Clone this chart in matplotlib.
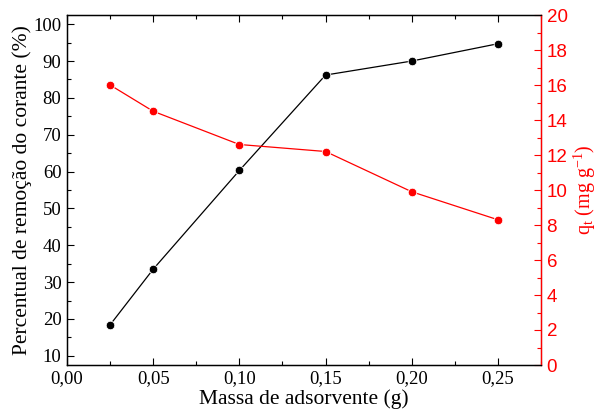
import matplotlib
matplotlib.use("Agg")
import matplotlib.pyplot as plt
from matplotlib.ticker import MultipleLocator, FuncFormatter

massa = [0.025, 0.05, 0.10, 0.15, 0.20, 0.25]
remocao = [18.4, 33.5, 60.3, 86.2, 90.0, 94.7]
qt = [16.0, 14.5, 12.6, 12.2, 9.9, 8.3]

plt.rcParams['mathtext.fontset'] = 'custom'
plt.rcParams['mathtext.rm'] = 'Liberation Serif'
plt.rcParams['mathtext.it'] = 'Liberation Serif:italic'

serif = 'Liberation Serif'
sans = 'Liberation Sans'

fig = plt.figure(figsize=(5.98, 4.17), dpi=100)
ax = fig.add_axes([67/598, 52/417, 474/598, 350/417])
ax2 = ax.twinx()

ax.plot(massa, remocao, color='black', lw=0.9, marker='o', ms=6.2,
        mfc='black', mec='white', mew=0.6, zorder=3)
ax2.plot(massa, qt, color='red', lw=0.9, marker='o', ms=6.2,
         mfc='red', mec='white', mew=0.6, zorder=3)

ax.set_xlim(0, 0.275)
ax.set_ylim(7.5, 102.5)
ax2.set_ylim(0, 20)

ax.xaxis.set_major_locator(MultipleLocator(0.05))
ax.xaxis.set_minor_locator(MultipleLocator(0.025))
ax.set_yticks([10, 20, 30, 40, 50, 60, 70, 80, 90, 100])
ax.yaxis.set_minor_locator(MultipleLocator(5))
ax2.yaxis.set_major_locator(MultipleLocator(2))
ax2.yaxis.set_minor_locator(MultipleLocator(1))

ax.xaxis.set_major_formatter(FuncFormatter(lambda v, p: f"{v:.2f}".replace('.', ',')))

ax.tick_params(axis='x', which='both', direction='in', top=True, bottom=True)
ax.tick_params(axis='x', which='major', length=5, width=0.8, labelsize=13.5, pad=4)
ax.tick_params(axis='x', which='minor', length=3, width=0.8)
ax.tick_params(axis='y', which='major', direction='in', length=5, width=0.8, labelsize=13.5, right=False, pad=4)
ax.tick_params(axis='y', which='minor', direction='in', length=3, width=0.8, right=False)
for lab in ax.get_xticklabels() + ax.get_yticklabels():
    lab.set_fontfamily(serif)

ax2.tick_params(axis='y', which='major', direction='in', length=5, width=0.8,
                colors='red', labelsize=13.5, pad=4)
ax2.tick_params(axis='y', which='minor', direction='in', length=3, width=0.8, colors='red')
for lab in ax2.get_yticklabels():
    lab.set_fontfamily(sans)

ax2.spines['right'].set_color('red')
for sp in ['left', 'top', 'bottom']:
    ax.spines[sp].set_linewidth(1.0)
ax2.spines['right'].set_linewidth(1.0)

ax.set_xlabel('Massa de adsorvente (g)', fontfamily=serif, fontsize=15.5, labelpad=1)
ax.set_ylabel('Percentual de remoção do corante (%)', fontfamily=serif, fontsize=15.5, labelpad=1)
ax2.set_ylabel(r'q$_{\rm t}$ (mg g$^{-1}$)', fontfamily=serif, fontsize=14.5, color='red', labelpad=3)

fig.savefig('out.png', dpi=100)
